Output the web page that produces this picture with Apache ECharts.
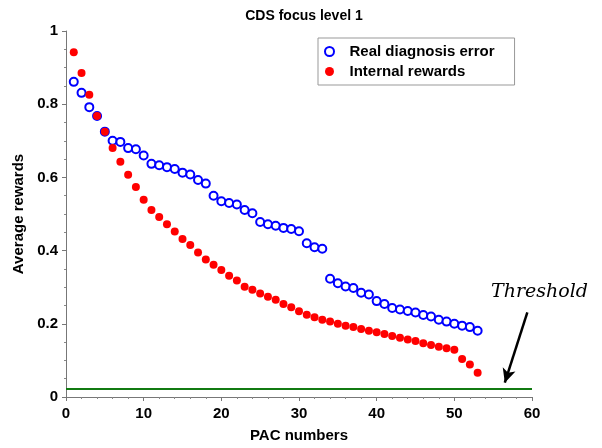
<!DOCTYPE html>
<html>
<head>
<meta charset="utf-8">
<script src="https://cdn.jsdelivr.net/npm/echarts@6/dist/echarts.min.js"></script>
<style>html,body{margin:0;padding:0;background:#fff}#c{width:602px;height:448px}</style>
</head>
<body>
<div id="c"></div>
<script>
var pac = [];
for (var i = 1; i <= 53; i++) pac.push(i);
var realError = [0.861,0.831,0.792,0.768,0.725,0.700,0.697,0.680,0.677,0.660,
  0.637,0.633,0.628,0.623,0.613,0.608,0.593,0.583,0.550,0.535,
  0.530,0.526,0.511,0.502,0.478,0.472,0.468,0.462,0.459,0.453,
  0.420,0.409,0.405,0.323,0.311,0.302,0.298,0.285,0.280,0.262,
  0.254,0.243,0.239,0.235,0.231,0.224,0.220,0.211,0.206,0.200,
  0.195,0.191,0.181];
var internalRewards = [0.942,0.885,0.826,0.768,0.725,0.680,0.643,0.607,0.574,0.539,
  0.511,0.492,0.472,0.452,0.432,0.415,0.395,0.376,0.361,0.347,
  0.331,0.318,0.301,0.293,0.283,0.274,0.266,0.254,0.245,0.234,
  0.225,0.218,0.211,0.206,0.200,0.195,0.191,0.186,0.181,0.177,
  0.172,0.167,0.162,0.157,0.153,0.147,0.142,0.137,0.133,0.129,
  0.104,0.089,0.066];
var threshold = 0.023;
var arrowFrom = [59.4, 0.231];
var arrowTo = [56.5, 0.039];
var xTicks = [0,10,20,30,40,50,60];
var yTicks = [0,0.2,0.4,0.6,0.8,1];

function pairs(xs, ys){ return xs.map(function(x,i){ return [x, ys[i]]; }); }

var font = 'Liberation Sans, Arial, sans-serif';
var blueStyle = {color: '#fff', borderColor: '#0000ff', borderWidth: 2, opacity: 1};
var redStyle = {color: '#ff0000', opacity: 1};
var chart = echarts.init(document.getElementById('c'), null, {renderer:'canvas'});
chart.setOption({
  animation: false,
  title: {
    text: 'CDS focus level 1', left: 299, top: 4, textAlign: 'center',
    textStyle: {fontFamily: font, fontWeight: 'bold', fontSize: 14, color: '#000'}
  },
  grid: {left: 66, right: 70, top: 31, bottom: 50.5, containLabel: false},
  legend: {
    orient: 'vertical', left: 318, top: 38,
    padding: [6, 20, 6, 6], itemGap: 5, itemWidth: 30, itemHeight: 9,
    borderColor: '#999', borderWidth: 1,
    textStyle: {fontFamily: font, fontWeight: 'bold', fontSize: 15, color: '#000'},
    data: [
      {name: 'Real diagnosis error', icon: 'circle', itemStyle: {color: '#fff', borderColor: '#0000ff', borderWidth: 2}},
      {name: 'Internal rewards', icon: 'circle', itemStyle: {color: '#ff0000'}}
    ]
  },
  xAxis: {
    type: 'value', min: 0, max: 60, interval: 10,
    name: 'PAC numbers', nameLocation: 'middle', nameGap: 31,
    nameTextStyle: {fontFamily: font, fontWeight: 'bold', fontSize: 15, color: '#000'},
    axisLine: {show: true, onZero: false, lineStyle: {color: '#777', width: 1}},
    axisTick: {show: true, inside: false, length: 4, lineStyle: {color: '#777', width: 1}},
    minorTick: {show: true, splitNumber: 5, length: 2, lineStyle: {color: '#888', width: 1}},
    splitLine: {show: false},
    axisLabel: {fontFamily: font, fontWeight: 'bold', fontSize: 15, color: '#000', margin: 9,
      formatter: function(v){ return xTicks.indexOf(v) >= 0 ? String(v) : ''; }}
  },
  yAxis: {
    type: 'value', min: 0, max: 1, interval: 0.2,
    name: 'Average rewards', nameLocation: 'middle', nameGap: 37,
    nameTextStyle: {fontFamily: font, fontWeight: 'bold', fontSize: 15, color: '#000'},
    axisLine: {show: true, onZero: false, lineStyle: {color: '#777', width: 1}},
    axisTick: {show: true, inside: false, length: 4, lineStyle: {color: '#777', width: 1}},
    minorTick: {show: true, splitNumber: 4, length: 2, lineStyle: {color: '#888', width: 1}},
    splitLine: {show: false},
    axisLabel: {fontFamily: font, fontWeight: 'bold', fontSize: 15, color: '#000', margin: 8,
      formatter: function(v){ var r = Math.round(v*10)/10; return String(r); }}
  },
  graphic: [{
    type: 'text', left: 491, top: 283,
    style: {text: 'Threshold', font: 'italic 19px "DejaVu Serif", serif', fill: '#000'}
  }],
  series: [
    {
      name: 'Real diagnosis error', type: 'scatter', symbol: 'circle', symbolSize: 8,
      itemStyle: blueStyle, emphasis: {disabled: true},
      data: pairs(pac, realError), z: 3
    },
    {
      name: 'Internal rewards', type: 'scatter', symbol: 'circle', symbolSize: 8,
      itemStyle: redStyle, emphasis: {disabled: true},
      data: pairs(pac, internalRewards), z: 4,
      markLine: {
        silent: true, animation: false,
        data: [
          [{coord: [0, threshold], symbol: 'none', lineStyle: {color: '#117a11', width: 2, type: 'solid'}},
           {coord: [60, threshold], symbol: 'none'}],
          [{coord: arrowFrom, symbol: 'none', lineStyle: {color: '#000', width: 2.5, type: 'solid'}},
           {coord: arrowTo, symbol: 'arrow', symbolSize: [10, 14]}]
        ],
        label: {show: false}
      }
    }
  ]
});
</script>
</body>
</html>
